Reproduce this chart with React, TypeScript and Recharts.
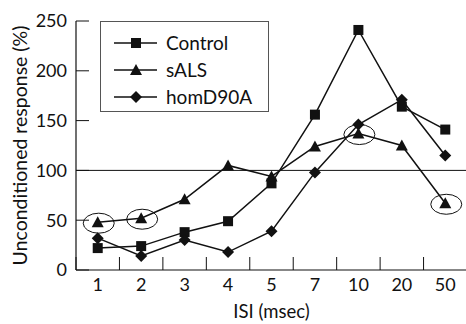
import { LineChart, Line, XAxis, YAxis, ReferenceLine, Legend } from "recharts";

const isiLabels = ["1", "2", "3", "4", "5", "7", "10", "20", "50"];
const controlValues = [22, 24, 38, 49, 87, 156, 241, 164, 141];
const salsValues = [48, 52, 71, 105, 94, 124, 137, 125, 67];
const homD90AValues = [32, 14, 30, 18, 39, 98, 146, 171, 115];
// sALS points that are circled in the figure
const circledSals = [true, true, false, false, false, false, true, false, true];
const yTicks = [0, 50, 100, 150, 200, 250];

const FONT = "Lato, 'Open Sans', sans-serif";
const INK = "#111";

const series = [
  { key: "control", name: "Control", shape: "square" },
  { key: "sals", name: "sALS", shape: "triangle" },
  { key: "hom", name: "homD90A", shape: "diamond" },
];

const data = isiLabels.map((isi, i) => ({
  isi,
  control: controlValues[i],
  sals: salsValues[i],
  hom: homD90AValues[i],
}));

function Marker({ shape, cx, cy }: { shape: string; cx: number; cy: number }) {
  if (shape === "square") {
    return <rect x={cx - 5} y={cy - 5} width={10} height={10} fill={INK} />;
  }
  if (shape === "triangle") {
    return (
      <polygon
        points={`${cx},${cy - 6} ${cx + 6},${cy + 5} ${cx - 6},${cy + 5}`}
        fill={INK}
      />
    );
  }
  return (
    <polygon
      points={`${cx},${cy - 6} ${cx + 6},${cy} ${cx},${cy + 6} ${cx - 6},${cy}`}
      fill={INK}
    />
  );
}

const makeDot = (shape: string, circled?: boolean[]) => (p: any) => (
  <g key={`${shape}-${p.index}`}>
    {circled && circled[p.index] && (
      <ellipse
        cx={p.cx + 1}
        cy={p.cy + 1}
        rx={15.5}
        ry={10}
        fill="none"
        stroke={INK}
        strokeWidth={1}
      />
    )}
    <Marker shape={shape} cx={p.cx} cy={p.cy} />
  </g>
);

function IsiTick(props: any) {
  const { x, y, payload } = props;
  const half = payload.offset || 390 / isiLabels.length / 2;
  return (
    <g>
      <line x1={x - half} x2={x - half} y1={y - 8} y2={y - 21} stroke={INK} />
      <text x={x} y={y + 13} textAnchor="middle" fontSize={18} fontFamily={FONT} fill={INK}>
        {payload.value}
      </text>
    </g>
  );
}

function LegendBox() {
  return (
    <div
      style={{
        border: "1px solid #555",
        width: 167,
        height: 82,
        paddingTop: 7,
        background: "#fff",
        fontFamily: FONT,
        fontSize: 19,
        color: INK,
      }}
    >
      {series.map((s) => (
        <div key={s.key} style={{ display: "flex", alignItems: "center", height: 27 }}>
          <svg width={65} height={16} style={{ flex: "none" }}>
            <line x1={13} x2={56} y1={8} y2={8} stroke={INK} strokeWidth={1.5} />
            <Marker shape={s.shape} cx={35} cy={8} />
          </svg>
          <span style={{ lineHeight: "27px" }}>{s.name}</span>
        </div>
      ))}
    </div>
  );
}

export default function App() {
  return (
    <div style={{ position: "absolute", left: 0, top: 0, background: "#fff" }}>
      <LineChart
        width={466}
        height={324}
        data={data}
        margin={{ top: 21, right: -1, bottom: 0, left: 0 }}
      >
        <XAxis
          dataKey="isi"
          scale="band"
          interval={0}
          height={54}
          tickSize={0}
          tickMargin={8}
          tickLine={false}
          axisLine={{ stroke: INK, strokeWidth: 1.2 }}
          tick={<IsiTick />}
          label={{
            value: "ISI (msec)",
            position: "insideBottom",
            offset: 6,
            style: { fontSize: 18.5, fontFamily: FONT, fill: INK },
          }}
        />
        <YAxis
          width={76}
          domain={[0, 250]}
          ticks={yTicks}
          interval={0}
          tickSize={-13}
          tickMargin={22}
          tickLine={{ stroke: INK }}
          axisLine={{ stroke: INK, strokeWidth: 1.2 }}
          tick={{ fill: INK, fontSize: 18, fontFamily: FONT }}
          label={{
            value: "Unconditioned response (%)",
            angle: -90,
            position: "insideLeft",
            offset: 20,
            style: { textAnchor: "middle", fontSize: 19.5, fontFamily: FONT, fill: INK },
          }}
        />
        <ReferenceLine y={100} stroke={INK} strokeWidth={1} />
        <Legend
          layout="vertical"
          align="center"
          verticalAlign="middle"
          content={<LegendBox />}
          wrapperStyle={{ left: 100, top: 21, width: "auto", height: "auto" }}
        />
        {series.map((s) => (
          <Line
            key={s.key}
            dataKey={s.key}
            name={s.name}
            type="linear"
            stroke={INK}
            strokeWidth={1.5}
            dot={makeDot(s.shape, s.key === "sals" ? circledSals : undefined)}
            activeDot={false}
            isAnimationActive={false}
          />
        ))}
      </LineChart>
    </div>
  );
}
